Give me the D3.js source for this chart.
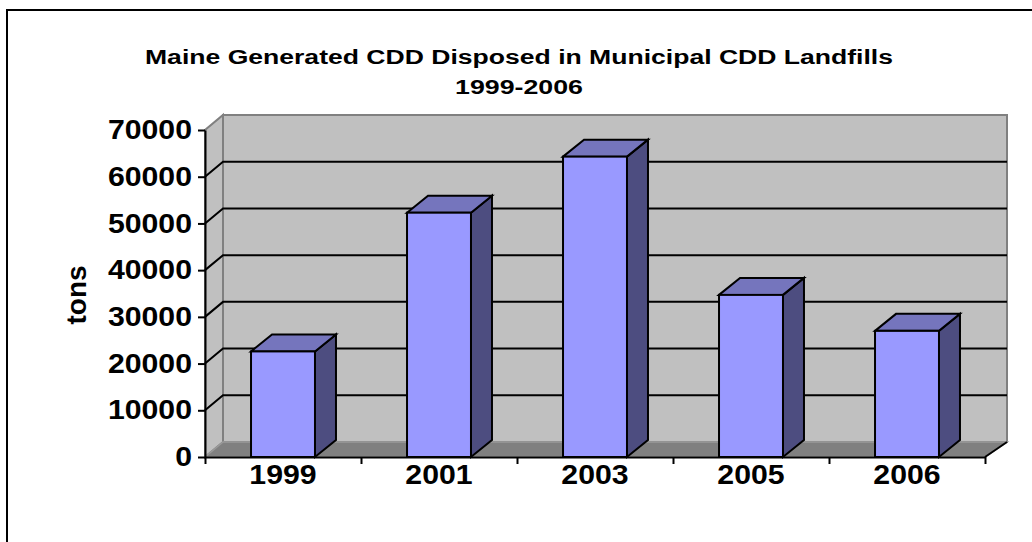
<!DOCTYPE html>
<html>
<head>
<meta charset="utf-8">
<script src="https://cdn.jsdelivr.net/npm/d3@7"></script>
<style>
  body { margin: 0; background: #fff; }
  text { font-family: Arial, "Liberation Sans", sans-serif; font-weight: bold; }
</style>
</head>
<body>
<div id="chart"></div>
<script>
// data
const years = ['1999', '2001', '2003', '2005', '2006'];
const tons = [22600, 52300, 64300, 34700, 27000];
const yTicks = [0, 10000, 20000, 30000, 40000, 50000, 60000, 70000];
const titleLines = ['Maine Generated CDD Disposed in Municipal CDD Landfills', '1999-2006'];
const yLabel = 'tons';

const W = 1032, H = 542;
const svg = d3.select('#chart').append('svg')
    .attr('width', W)
    .attr('height', H);

// outer frame
svg.append('rect')
    .attr('x', 7).attr('y', 10)
    .attr('width', W + 20).attr('height', H + 20)
    .attr('fill', 'none')
    .attr('stroke', '#000')
    .attr('stroke-width', 2);

// plot geometry (front plane)
const plotL = 205, plotR = 985, plotT = 130, plotB = 457;
const depthL = 18, depthR = 22, depthY = -15;   // wall depth
const barDx = 21, barDy = -17;                  // column depth

const yScale = d3.scaleLinear().domain([0, 70000]).range([plotB, plotT]);
const xBand = d3.scaleBand().domain(years).range([plotL, plotR]).padding(0);
const xEdges = d3.scaleLinear().domain([0, years.length]).range([plotL, plotR]);

// the reference font is a bit wider than Arial, stretch glyphs to fit
const stretch = 1.12;
const widen = sel => sel.each(function () {
    const t = d3.select(this);
    const len = this.getComputedTextLength();
    t.attr('textLength', len * stretch).attr('lengthAdjust', 'spacingAndGlyphs');
});

// side wall
svg.append('polygon')
    .attr('points', [[plotL, plotB], [plotL, plotT], [plotL + depthL, plotT + depthY], [plotL + depthL, plotB + depthY]].join(' '))
    .attr('fill', '#c0c0c0')
    .attr('stroke', '#808080')
    .attr('stroke-width', 2);

// back wall
svg.append('rect')
    .attr('x', plotL + depthL)
    .attr('y', plotT + depthY)
    .attr('width', (plotR + depthR) - (plotL + depthL))
    .attr('height', plotB - plotT)
    .attr('fill', '#c0c0c0')
    .attr('stroke', '#808080')
    .attr('stroke-width', 2);

// floor
svg.append('polygon')
    .attr('points', [[plotL, plotB], [plotR, plotB], [plotR + depthR, plotB + depthY], [plotL + depthL, plotB + depthY]].join(' '))
    .attr('fill', '#808080')
    .attr('stroke', '#9a9a9a')
    .attr('stroke-width', 1.5);
svg.append('line')
    .attr('x1', plotR).attr('y1', plotB)
    .attr('x2', plotR + depthR).attr('y2', plotB + depthY)
    .attr('stroke', '#000').attr('stroke-width', 2);

// gridlines: diagonal on side wall, horizontal on back wall
svg.append('g').selectAll('polyline')
    .data(yTicks.filter(v => v > 0 && v < 70000))
    .join('polyline')
    .attr('points', d => {
        const y = yScale(d);
        return [[plotL, y], [plotL + depthL, y + depthY], [plotR + depthR, y + depthY]].join(' ');
    })
    .attr('fill', 'none')
    .attr('stroke', '#000')
    .attr('stroke-width', 2);

// columns
const barW = xBand.bandwidth() * 0.41;
const bars = svg.append('g').selectAll('g')
    .data(years.map((y, i) => ({ year: y, value: tons[i] })))
    .join('g');

bars.each(function (d) {
    const g = d3.select(this);
    const x0 = xBand(d.year) + (xBand.bandwidth() - barW) / 2;
    const x1 = x0 + barW;
    const yt = yScale(d.value);
    const y0 = yScale(0);
    g.append('polygon')
        .attr('points', [[x1, yt], [x1 + barDx, yt + barDy], [x1 + barDx, y0 + barDy], [x1, y0]].join(' '))
        .attr('fill', '#4d4d80');
    g.append('polygon')
        .attr('points', [[x0, yt], [x0 + barDx, yt + barDy], [x1 + barDx, yt + barDy], [x1, yt]].join(' '))
        .attr('fill', '#7575bd');
    g.append('rect')
        .attr('x', x0).attr('y', yt)
        .attr('width', barW).attr('height', y0 - yt)
        .attr('fill', '#9999ff');
    g.selectAll('polygon, rect')
        .attr('stroke', '#000')
        .attr('stroke-width', 2)
        .attr('stroke-linejoin', 'miter');
});

// y axis
const yAxisG = svg.append('g')
    .attr('transform', `translate(${plotL},0)`)
    .call(d3.axisLeft(yScale).tickValues(yTicks).tickSize(7).tickSizeOuter(0).tickPadding(6).tickFormat(d3.format('d')));
yAxisG.select('.domain').attr('stroke-width', 2);
yAxisG.selectAll('.tick line').attr('stroke-width', 2);
yAxisG.selectAll('.tick text')
    .attr('font-size', 27)
    .attr('fill', '#000')
    .attr('font-family', 'Arial, "Liberation Sans", sans-serif')
    .attr('font-weight', 'bold')
    .call(widen);

// x axis
const xAxisG = svg.append('g')
    .attr('transform', `translate(0,${plotB})`)
    .call(d3.axisBottom(xEdges).tickValues(d3.range(years.length + 1)).tickSize(7).tickSizeOuter(0).tickFormat(''));
xAxisG.select('.domain').attr('stroke-width', 2);
xAxisG.selectAll('.tick line').attr('stroke-width', 2);

svg.append('g').selectAll('text')
    .data(years)
    .join('text')
    .attr('x', d => xBand(d) + xBand.bandwidth() / 2)
    .attr('y', 484)
    .attr('text-anchor', 'middle')
    .attr('font-size', 27)
    .text(d => d)
    .call(widen);

// axis title
svg.append('text')
    .attr('transform', 'translate(86,295) rotate(-90)')
    .attr('text-anchor', 'middle')
    .attr('font-size', 28)
    .text(yLabel);

// chart title
svg.append('text')
    .attr('x', 519).attr('y', 64)
    .attr('text-anchor', 'middle')
    .attr('font-size', 20)
    .attr('textLength', 748)
    .attr('lengthAdjust', 'spacingAndGlyphs')
    .text(titleLines[0]);
svg.append('text')
    .attr('x', 519).attr('y', 94)
    .attr('text-anchor', 'middle')
    .attr('font-size', 20)
    .attr('textLength', 128)
    .attr('lengthAdjust', 'spacingAndGlyphs')
    .text(titleLines[1]);
</script>
</body>
</html>
